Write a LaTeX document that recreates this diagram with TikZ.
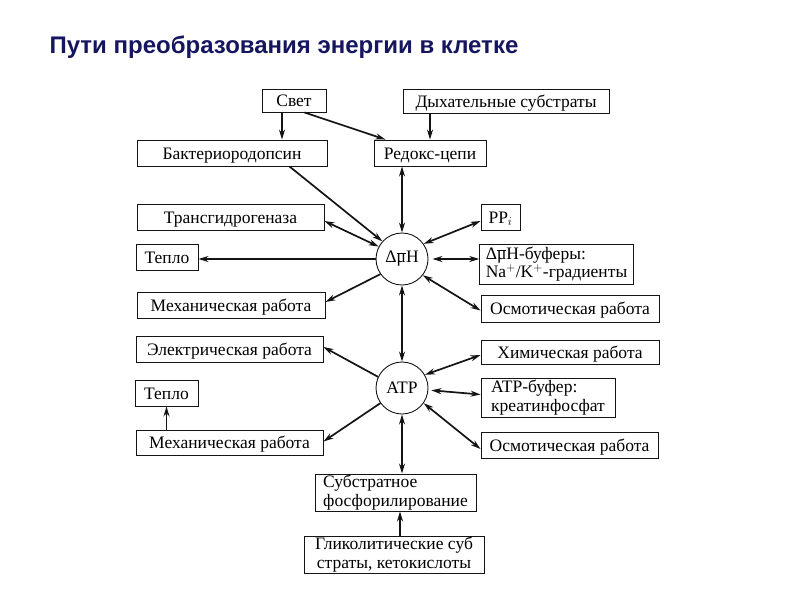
\documentclass[tikz,border=0pt]{standalone}
\usepackage{fontspec}
\setmainfont{Liberation Serif}
\newfontfamily\titlefont{Liberation Sans}
\usepackage{xcolor}
\usetikzlibrary{arrows.meta, positioning, calc}
\definecolor{cnavy}{RGB}{22, 22, 96}
\definecolor{cline}{RGB}{20, 20, 20}
\newcommand{\mubar}{\ensuremath{\overline{\mbox{μ}}}}

\tikzset{
  eboxbase/.style={draw=cline, line width=0.9pt, inner sep=0pt,
    font=\fontsize{17.5}{18.5}\selectfont},
  ebox/.style={eboxbase, minimum height=26pt, text height=12pt, text depth=0pt},
  ebox2/.style={eboxbase, align=left, minimum height=38pt, inner xsep=6pt},
  ecirc/.style={draw=cline, circle, line width=0.9pt, minimum size=52pt, inner sep=0pt,
    font=\fontsize{17.5}{18.5}\selectfont},
  flow/.style={draw=cline, line width=1.7pt, -{Stealth[length=10pt, width=6pt]}},
  both/.style={draw=cline, line width=1.7pt,
    {Stealth[length=10pt, width=6pt]}-{Stealth[length=10pt, width=6pt]}}
}

\begin{document}
\begin{tikzpicture}[x=1pt, y=-1pt]
  \useasboundingbox (0,0) rectangle (794,595);
  \node[anchor=base west, color=cnavy, font=\titlefont\bfseries\fontsize{24}{26}\selectfont] (title) at (46,53)
    {Пути преобразования энергии в клетке};

  \node[ebox, minimum width=64pt, minimum height=23pt] (svet) at (294,100.5) {Свет};
  \node[ebox, minimum width=206pt, minimum height=24pt] (dykh) at (506,101) {Дыхательные субстраты};
  \node[ebox, minimum width=190pt] (bakt) at (232,153) {Бактериородопсин};
  \node[ebox, minimum width=112pt] (redox) at (430,153) {Редокс-цепи};
  \node[ebox, minimum width=187pt] (trans) at (230.5,217) {Трансгидрогеназа};
  \node[ebox, minimum width=39pt] (ppi) at (500.5,217) {PP$_i$};
  \node[ebox, minimum width=62pt] (teplo1) at (167,257) {Тепло};
  \node[ecirc] (dmh) at (402,259) {Δ\mubar H};
  \node[ebox2, minimum width=151pt, minimum height=40pt] (dmhbuf) at (556.5,264)
    {Δ\mubar H-буферы:\\Na$^+$/K$^+$-градиенты};
  \node[ebox, minimum width=188pt] (mech1) at (231,305) {Механическая работа};
  \node[ebox, minimum width=178pt, minimum height=27pt] (osm1) at (570,308.5) {Осмотическая работа};
  \node[ebox, minimum width=187pt] (elec) at (229.5,349) {Электрическая работа};
  \node[ebox, minimum width=178pt, minimum height=24pt] (chem) at (570,352) {Химическая работа};
  \node[ecirc] (atp) at (402,388) {ATP};
  \node[ebox2, minimum width=134pt, minimum height=39pt] (atpbuf) at (548,397.5)
    {ATP-буфер:\\креатинфосфат};
  \node[ebox, minimum width=63pt] (teplo2) at (166.5,393) {Тепло};
  \node[ebox, minimum width=187pt, minimum height=25pt] (mech2) at (229.5,442.5) {Механическая работа};
  \node[ebox, minimum width=177pt] (osm2) at (569.5,445) {Осмотическая работа};
  \node[ebox2, minimum width=161pt, minimum height=37pt] (subst) at (395.5,492.5)
    {Субстратное\\фосфорилирование};
  \node[ebox2, minimum width=180pt, minimum height=37pt, align=center] (glyc) at (394,554.5)
    {Гликолитические суб\\страты, кетокислоты};

  \draw[flow] ([xshift=-12pt]svet.south) -- ([xshift=-12pt]svet.south |- bakt.north);
  \draw[flow] ([xshift=-22pt]svet.south east) -- ([xshift=12pt]redox.north west);
  \draw[flow] (dykh.south -| redox.north) -- (redox.north);
  \draw[flow] ([xshift=-38pt]bakt.south east) -- (dmh.138);
  \draw[both] (redox.south -| dmh.north) -- (dmh.north);
  \draw[both] ([yshift=-4pt]trans.east) -- (dmh.152);
  \draw[flow] (dmh.west) -- (dmh.west -| teplo1.east);
  \draw[both] (dmh.35) -- ([yshift=-4pt]ppi.west);
  \draw[both] ([xshift=4pt]dmh.east) -- (dmh.east -| dmhbuf.west);
  \draw[flow] (dmh.215) -- ([yshift=3pt]mech1.east);
  \draw[both] (dmh.-38) -- ([yshift=-2pt]osm1.west);
  \draw[both] (dmh.south) -- (atp.north);
  \draw[flow] (atp.155) -- ([yshift=2pt]elec.east);
  \draw[both] (atp.30) -- ([yshift=-3pt]chem.west);
  \draw[both] ([xshift=3pt]atp.-5) -- ([yshift=3pt]atpbuf.west);
  \draw[flow] (atp.215) -- ([yshift=1pt]mech2.east);
  \draw[both] (atp.-35) -- ([yshift=-4pt]osm2.west);
  \draw[both] (atp.south) -- (atp.south |- subst.north);
  \draw[flow] (mech2.north -| teplo2) -- (teplo2.south);
  \draw[flow] ([xshift=6pt]glyc.north) -- ([xshift=6pt]glyc.north |- subst.south);
\end{tikzpicture}
\end{document}
